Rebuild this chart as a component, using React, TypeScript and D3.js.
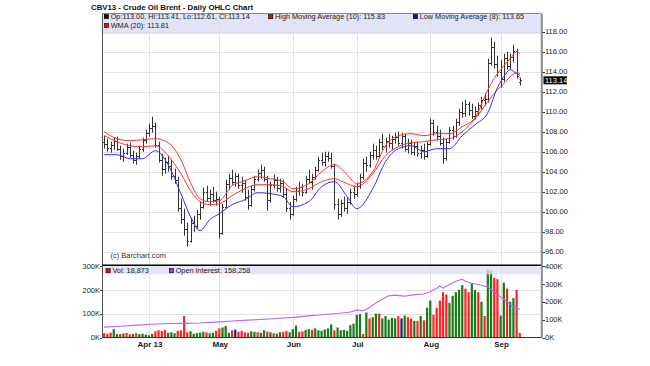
import React, { useRef, useEffect } from 'react';
import * as d3 from 'd3';

// trading calendar for the chart (ICE Brent, Oct 2013 contract)
const firstDay = '2013-03-11';
const lastDay = '2013-09-10';
const holidays = ['2013-03-29'];

// daily OHLC, one row per month
const opens = [
  107.0, 106.8, 106.4, 106.7, 107.1, 106.3, 105.6, 105.9, 106.5, 105.7, 105.2, 105.6, 106.3, 107.2,
  107.9, 108.4, 108.6, 106.7, 105.2, 104.3, 105.0, 104.6, 103.6, 103.2, 100.4, 99.3, 98.3, 97.1, 98.9, 98.6, 99.8, 100.5, 102.0, 101.4, 101.8, 101.2,
  101.3, 97.9, 100.5, 102.8, 103.4, 103.0, 103.6, 102.7, 102.9, 101.5, 100.7, 102.3, 103.3, 103.9, 104.2, 103.3, 101.2, 102.7, 103.2, 102.4, 102.9, 101.8, 100.4,
  99.8, 101.3, 102.1, 102.5, 102.0, 103.3, 103.0, 103.5, 104.2, 105.2, 105.0, 105.6, 105.4, 104.6, 100.8, 99.8, 100.9, 100.4, 101.0, 102.0,
  101.8, 102.6, 103.5, 104.9, 104.7, 105.7, 106.2, 105.6, 107.0, 106.6, 107.1, 106.9, 107.3, 107.5, 106.9, 107.6, 106.3, 106.9, 106.0, 106.6, 105.9, 106.2, 105.6,
  106.8, 108.9, 108.0, 107.6, 106.9, 105.4, 107.0, 108.2, 107.6, 109.0, 110.0, 109.9, 110.8, 110.2, 109.6, 110.1, 110.7, 111.2, 111.3, 114.9, 116.5, 114.8,
  114.0, 113.3, 115.4, 114.6, 115.5, 116.1, 113.0,
];
const highs = [
  107.6, 107.3, 107.0, 107.4, 107.5, 106.6, 106.3, 106.8, 106.9, 106.1, 105.9, 106.6, 107.4, 108.2,
  108.8, 109.5, 108.9, 107.0, 105.8, 105.4, 105.6, 105.2, 104.3, 103.5, 101.3, 100.3, 98.9, 99.4, 99.6, 100.2, 101.0, 102.4, 102.6, 102.2, 102.5, 102.0,
  101.5, 100.8, 103.2, 103.8, 104.2, 103.9, 103.8, 103.5, 103.2, 102.2, 102.6, 103.6, 104.2, 104.7, 104.5, 103.6, 103.0, 103.7, 103.5, 103.3, 103.2, 102.3, 101.0,
  101.6, 102.5, 103.0, 102.8, 103.6, 104.2, 103.8, 104.5, 105.5, 105.9, 106.0, 106.0, 105.9, 104.8, 101.3, 101.2, 101.5, 101.4, 102.3, 102.6,
  102.9, 103.8, 105.3, 105.5, 106.0, 106.8, 106.6, 107.3, 107.8, 107.4, 107.8, 107.6, 107.9, 108.0, 107.9, 107.8, 107.3, 107.2, 106.9, 107.0, 106.6, 106.8, 107.0,
  109.3, 109.2, 108.6, 108.2, 107.4, 107.3, 108.5, 108.6, 109.3, 110.3, 111.0, 111.2, 111.0, 110.8, 110.5, 110.9, 111.5, 111.8, 115.3, 117.4, 117.0, 115.6,
  115.2, 115.8, 116.0, 115.8, 116.7, 116.3, 113.41,
];
const lows = [
  106.3, 106.0, 105.9, 106.2, 106.1, 105.2, 105.0, 105.7, 105.4, 104.8, 104.7, 105.3, 106.0, 106.8,
  107.5, 107.9, 106.4, 104.9, 103.6, 103.8, 104.0, 103.2, 102.8, 100.0, 98.8, 97.6, 96.5, 96.9, 98.0, 98.3, 99.2, 100.3, 101.0, 100.6, 100.9, 100.6,
  97.3, 97.7, 100.4, 102.2, 102.7, 102.5, 102.3, 101.9, 101.1, 100.2, 100.5, 102.0, 103.0, 103.3, 103.0, 100.1, 100.9, 102.3, 102.0, 101.9, 101.4, 100.0, 99.2,
  99.6, 101.0, 101.6, 101.5, 101.8, 102.8, 102.2, 103.2, 104.0, 104.6, 104.5, 105.0, 104.3, 100.2, 99.2, 99.5, 100.0, 99.8, 100.7, 101.3,
  101.5, 102.3, 103.2, 104.0, 104.4, 105.2, 105.2, 105.4, 106.2, 105.9, 106.4, 106.2, 106.8, 106.6, 106.3, 106.0, 105.8, 105.7, 105.6, 105.5, 105.3, 105.2, 105.4,
  106.6, 107.6, 107.1, 106.6, 104.8, 105.1, 106.8, 107.2, 107.4, 108.6, 109.4, 109.5, 109.6, 109.3, 109.2, 109.6, 110.2, 110.6, 110.9, 114.6, 114.3, 113.5,
  112.4, 113.0, 114.2, 114.2, 114.9, 113.3, 112.61,
];
const closes = [
  106.8, 106.4, 106.7, 107.1, 106.3, 105.6, 105.9, 106.5, 105.7, 105.2, 105.6, 106.3, 107.2, 107.9,
  108.4, 108.6, 106.7, 105.2, 104.3, 105.0, 104.6, 103.6, 103.2, 100.4, 99.3, 98.3, 97.1, 98.9, 98.6, 99.8, 100.5, 102.0, 101.4, 101.8, 101.2, 101.3,
  97.9, 100.5, 102.8, 103.4, 103.0, 103.6, 102.7, 102.9, 101.5, 100.7, 102.3, 103.3, 103.9, 104.2, 103.3, 101.2, 102.7, 103.2, 102.4, 102.9, 101.8, 100.4, 99.8,
  101.3, 102.1, 102.5, 102.0, 103.3, 103.0, 103.5, 104.2, 105.2, 105.0, 105.6, 105.4, 104.6, 100.8, 99.8, 100.9, 100.4, 101.0, 102.0, 101.8,
  102.6, 103.5, 104.9, 104.7, 105.7, 106.2, 105.6, 107.0, 106.6, 107.1, 106.9, 107.3, 107.5, 106.9, 107.6, 106.3, 106.9, 106.0, 106.6, 105.9, 106.2, 105.6, 106.8,
  108.9, 108.0, 107.6, 106.9, 105.4, 107.0, 108.2, 107.6, 109.0, 110.0, 109.9, 110.8, 110.2, 109.6, 110.1, 110.7, 111.2, 111.3, 114.9, 116.5, 114.8, 114.0,
  113.3, 115.4, 114.6, 115.5, 116.1, 113.6, 113.14,
];

// indicator readings
const maDates = [
  '2013-03-11', '2013-03-15', '2013-03-21', '2013-03-27', '2013-04-03', '2013-04-09', '2013-04-15', '2013-04-18',
  '2013-04-23', '2013-04-26', '2013-05-01', '2013-05-07', '2013-05-13', '2013-05-17', '2013-05-23', '2013-05-29',
  '2013-06-03', '2013-06-10', '2013-06-14', '2013-06-20', '2013-06-26', '2013-07-01', '2013-07-08', '2013-07-12',
  '2013-07-18', '2013-07-24', '2013-07-30', '2013-08-05', '2013-08-09', '2013-08-15', '2013-08-21', '2013-08-27',
  '2013-08-30', '2013-09-03', '2013-09-05', '2013-09-09', '2013-09-10',
];
const highMA10 = [
  108.0, 107.3, 107.1, 107.2, 107.3, 106.9, 105.2, 102.9, 101.3, 101.0, 101.1, 102.6, 103.1, 103.5, 103.3, 103.0,
  102.3, 102.8, 104.0, 104.7, 103.7, 102.8, 104.0, 106.6, 107.6, 107.8, 107.6, 107.8, 107.8, 108.5, 109.4, 112.2,
  113.8, 114.6, 115.3, 116.0, 115.83,
];
const lowMA8 = [
  105.7, 105.7, 105.3, 105.3, 106.1, 104.7, 101.8, 99.5, 98.1, 99.2, 99.8, 100.7, 101.2, 101.9, 101.8, 101.5,
  100.5, 101.0, 102.5, 103.0, 101.5, 100.3, 102.3, 105.0, 106.3, 106.6, 106.0, 106.3, 106.3, 107.6, 108.7, 109.9,
  112.4, 113.5, 114.2, 113.8, 113.65,
];
const wma20 = [
  107.6, 107.0, 106.6, 106.5, 106.6, 105.6, 103.8, 102.1, 101.0, 100.7, 100.8, 101.6, 102.3, 102.7, 102.7, 102.5,
  102.0, 102.3, 103.0, 103.3, 102.8, 102.5, 103.8, 105.6, 106.5, 106.9, 107.0, 107.2, 107.3, 108.0, 109.3, 111.0,
  112.2, 112.8, 113.5, 113.9, 113.81,
];

// volume in thousands, u = up day, d = down day, n = unchanged
const volumeK = [
  18, 16, 20, 35, 14, 15, 17, 19, 14, 15, 18, 14, 16, 12,
  9, 15, 26, 30, 28, 32, 20, 22, 18, 28, 30, 90, 22, 26, 16, 18, 20, 24, 22, 18, 20, 28,
  38, 42, 48, 20, 30, 33, 24, 28, 22, 20, 26, 24, 22, 20, 30, 25, 22, 18, 16, 22, 24, 28, 22,
  35, 50, 24, 26, 32, 35, 32, 38, 30, 28, 34, 38, 55, 30, 42, 30, 32, 28, 52, 58,
  95, 98, 15, 105, 80, 85, 100, 100, 80, 90, 75, 82, 80, 90, 80, 92, 85, 80, 70, 70, 90, 72, 125,
  155, 95, 125, 155, 190, 180, 145, 175, 190, 200, 220, 205, 190, 225, 200, 190, 150, 90, 285, 280, 250, 245,
  92, 230, 205, 150, 165, 200, 18.873,
];
const volumeDir = (
  'ddduududduduuu' +
  'uudddduuudddduuuuuduud' +
  'duuudndddduuduududuuddu' +
  'uudduuduuuuuuduuuuuu' +
  'uududuuduuuuudnuddududu' +
  'uddddduuuuudduududuudd' +
  'uuduudd'
).split('');

// open interest in thousands
const oiDates = [
  '2013-03-11', '2013-03-18', '2013-03-25', '2013-04-02', '2013-04-09', '2013-04-16', '2013-04-23', '2013-04-30',
  '2013-05-07', '2013-05-14', '2013-05-21', '2013-05-28', '2013-06-04', '2013-06-10', '2013-06-13', '2013-06-18',
  '2013-06-21', '2013-06-27', '2013-07-01', '2013-07-03', '2013-07-05', '2013-07-09', '2013-07-11', '2013-07-15',
  '2013-07-17', '2013-07-19', '2013-07-22', '2013-07-24', '2013-07-26', '2013-07-30', '2013-08-01', '2013-08-05',
  '2013-08-06', '2013-08-07', '2013-08-09', '2013-08-13', '2013-08-15', '2013-08-16', '2013-08-20', '2013-08-23',
  '2013-08-27', '2013-08-29', '2013-09-02', '2013-09-04', '2013-09-06', '2013-09-09', '2013-09-10',
];
const openInterestK = [
  58, 63, 69, 74, 78, 79, 81, 86, 92, 97, 102, 108, 114, 121, 126, 130,
  134, 143, 153, 150, 168, 193, 214, 233, 237, 233, 231, 237, 241, 243, 258, 275,
  288, 276, 296, 315, 326, 315, 303, 292, 283, 255, 227, 199, 172, 164, 158.258,
];

const priceTicks = [96, 98, 100, 102, 104, 106, 108, 110, 112, 114, 116, 118];
const volTicks = [0, 100, 200, 300];
const oiTicks = [0, 100, 200, 300, 400];
const monthStarts = ['2013-04-01', '2013-05-01', '2013-06-03', '2013-07-01', '2013-08-01', '2013-09-02'];
const monthLabels = ['Apr 13', 'May', 'Jun', 'Jul', 'Aug', 'Sep'];

const font = 'Liberation Sans, Arial, sans-serif';
const volColors: Record<string, string> = { u: '#177a17', d: '#ff2222', n: '#1c1c78' };

const OhlcChart = () => {
  const chartRef = useRef<SVGSVGElement | null>(null);

  useEffect(() => {
    if (!chartRef.current) return;
    const svg = d3.select(chartRef.current);
    svg.selectAll('*').remove();

    const width = 650;
    const height = 366;
    const left = 102;
    const right = 541;
    const top = 13.5;
    const sep = 265.3; // line between price and volume panes
    const volBottom = 337.5;

    const fmt = d3.utcFormat('%Y-%m-%d');
    const days = d3.utcDays(new Date(firstDay), d3.utcDay.offset(new Date(lastDay), 1))
      .filter(d => d.getUTCDay() !== 0 && d.getUTCDay() !== 6)
      .map(d => fmt(d))
      .filter(d => !holidays.includes(d));

    const x = d3.scalePoint<string>().domain(days).range([104.2, 519.8]);
    const y = d3.scaleLinear().domain([96, 118]).range([251.7, 31.7]);
    const yVol = d3.scaleLinear().domain([0, 300]).range([volBottom, 266]);
    const yOi = d3.scaleLinear().domain([0, 400]).range([volBottom, 266]);
    const px = (d: string) => Math.round(x(d) as number) + 0.5;
    const py = (v: number) => Math.round(y(v)) + 0.5;

    svg.append('rect').attr('width', width).attr('height', height).attr('fill', '#fff');

    // grid
    const grid = svg.append('g').attr('stroke', '#e2e2e2').attr('stroke-width', 1);
    priceTicks.forEach(t => {
      grid.append('line').attr('x1', left).attr('x2', right).attr('y1', py(t)).attr('y2', py(t));
    });
    volTicks.slice(1, -1).forEach(t => {
      const yy = Math.round(yVol(t)) + 0.5;
      grid.append('line').attr('x1', left).attr('x2', right).attr('y1', yy).attr('y2', yy);
    });
    monthStarts.forEach(m => {
      grid.append('line').attr('x1', px(m)).attr('x2', px(m)).attr('y1', top).attr('y2', volBottom);
    });

    // OHLC bars
    const bars = svg.append('g').attr('stroke', '#333').attr('stroke-width', 1);
    days.forEach((d, i) => {
      const cx = px(d);
      bars.append('line').attr('x1', cx).attr('x2', cx).attr('y1', y(highs[i])).attr('y2', y(lows[i]));
      bars.append('line').attr('x1', cx - 1.5).attr('x2', cx).attr('y1', py(opens[i])).attr('y2', py(opens[i]));
      bars.append('line').attr('x1', cx).attr('x2', cx + 1.5).attr('y1', py(closes[i])).attr('y2', py(closes[i]));
    });

    // moving averages
    const maLine = (vals: number[]) => d3.line<string>()
      .x(d => x(d) as number)
      .y((d, i) => y(vals[i]))
      .curve(d3.curveMonotoneX)(maDates);

    svg.append('path').attr('d', maLine(wma20)).attr('fill', 'none').attr('stroke', '#ff3030').attr('stroke-width', 1);
    svg.append('path').attr('d', maLine(highMA10)).attr('fill', 'none').attr('stroke', '#ff3030').attr('stroke-width', 1);
    svg.append('path').attr('d', maLine(lowMA8)).attr('fill', 'none').attr('stroke', '#3030ff').attr('stroke-width', 1);

    // volume bars
    const vol = svg.append('g');
    days.forEach((d, i) => {
      const top0 = yVol(volumeK[i]);
      vol.append('rect')
        .attr('x', (x(d) as number) - 1.1)
        .attr('y', top0)
        .attr('width', 2.2)
        .attr('height', volBottom - top0)
        .attr('fill', volColors[volumeDir[i]]);
    });

    // open interest
    const oiLine = d3.line<string>()
      .x(d => x(d) as number)
      .y((d, i) => yOi(openInterestK[i]));
    svg.append('path').attr('d', oiLine(oiDates)).attr('fill', 'none').attr('stroke', '#b266ff').attr('stroke-width', 1.1);

    // legend boxes
    svg.append('rect').attr('x', left).attr('y', top).attr('width', right - left).attr('height', 20.5)
      .attr('fill', '#dcdcf6').attr('opacity', 0.8);
    svg.append('rect').attr('x', left).attr('y', 266.2).attr('width', right - left - 1).attr('height', 8.2)
      .attr('fill', '#dcdcf6').attr('opacity', 0.75);

    const legendItem = (lx: number, ly: number, color: string, label: string) => {
      svg.append('rect').attr('x', lx).attr('y', ly - 4.4).attr('width', 4.2).attr('height', 4.2)
        .attr('fill', color).attr('stroke', '#000').attr('stroke-width', 0.6);
      svg.append('text').attr('x', lx + 6.4).attr('y', ly).attr('font-family', font).attr('font-size', 7.3)
        .attr('fill', '#1a1a1a').text(label);
    };
    const last = days.length - 1;
    legendItem(104.3, 18.9, '#000', `Op:${opens[last].toFixed(2)}, Hi:${highs[last].toFixed(2)}, Lo:${lows[last].toFixed(2)}, Cl:${closes[last].toFixed(2)}`);
    legendItem(268.6, 18.9, '#ff0000', `High Moving Average (10): ${highMA10[highMA10.length - 1].toFixed(2)}`);
    legendItem(413.3, 18.9, '#0000ff', `Low Moving Average (8): ${lowMA8[lowMA8.length - 1].toFixed(2)}`);
    legendItem(104.3, 27.8, '#ff0000', `WMA (20): ${wma20[wma20.length - 1].toFixed(2)}`);
    legendItem(106, 273, '#ff0000', `Vol: ${d3.format(',')(Math.round(volumeK[last] * 1000))}`);
    legendItem(169.3, 273, '#9933ff', `Open Interest: ${d3.format(',')(Math.round(openInterestK[openInterestK.length - 1] * 1000))}`);

    // frame
    svg.append('line').attr('x1', left).attr('x2', right).attr('y1', top).attr('y2', top).attr('stroke', '#888');
    svg.append('line').attr('x1', left + 0.5).attr('x2', left + 0.5).attr('y1', top).attr('y2', volBottom).attr('stroke', '#555');
    svg.append('line').attr('x1', left).attr('x2', right).attr('y1', sep).attr('y2', sep).attr('stroke', '#000').attr('stroke-width', 1.6);
    svg.append('line').attr('x1', left).attr('x2', right).attr('y1', volBottom).attr('y2', volBottom).attr('stroke', '#333');
    svg.append('line').attr('x1', right + 0.8).attr('x2', right + 0.8).attr('y1', top).attr('y2', volBottom + 0.5)
      .attr('stroke', '#8a8a8a').attr('stroke-width', 2);

    // axes text
    const axisText = (tx: number, ty: number, label: string, anchor = 'start', bold = false) => {
      svg.append('text').attr('x', tx).attr('y', ty).attr('text-anchor', anchor)
        .attr('font-family', font).attr('font-size', bold ? 8 : 7.5).attr('font-weight', bold ? 'bold' : 'normal')
        .attr('fill', '#1a1a1a').text(label);
    };
    priceTicks.forEach(t => {
      svg.append('line').attr('x1', right + 1.5).attr('x2', right + 4).attr('y1', py(t)).attr('y2', py(t)).attr('stroke', '#333');
      axisText(545, y(t) + 2.7, t.toFixed(2));
    });
    oiTicks.forEach(t => {
      const yy = Math.round(yOi(t)) + 0.5;
      svg.append('line').attr('x1', right + 1.5).attr('x2', right + 4).attr('y1', yy).attr('y2', yy).attr('stroke', '#333');
      axisText(545, yOi(t) + 2.7, `${t}K`);
    });
    volTicks.forEach(t => {
      const yy = Math.round(yVol(t)) + 0.5;
      svg.append('line').attr('x1', left - 2).attr('x2', left).attr('y1', yy).attr('y2', yy).attr('stroke', '#333');
      axisText(100, yVol(t) + 2.7, `${t}K`, 'end');
    });

    // current price marker
    const lastY = y(closes[last]);
    svg.append('rect').attr('x', 543.5).attr('y', lastY - 4).attr('width', 23.5).attr('height', 8).attr('fill', '#000');
    svg.append('text').attr('x', 545).attr('y', lastY + 2.7).attr('font-family', font).attr('font-size', 7.5)
      .attr('fill', '#fff').text(closes[last].toFixed(2));

    // month labels
    monthStarts.forEach((m, i) => axisText((x(m) as number) + 1, 346.5, monthLabels[i], 'middle', true));

    // title and credit
    svg.append('text').attr('x', 91).attr('y', 9.6).attr('font-family', font).attr('font-size', 7.8)
      .attr('font-weight', 'bold').attr('fill', '#111').text('CBV13 - Crude Oil Brent - Daily OHLC Chart');
    svg.append('text').attr('x', 110.5).attr('y', 258).attr('font-family', font).attr('font-size', 7.5)
      .attr('fill', '#333').text('(c) Barchart.com');
  }, []);

  return (
    <svg
      ref={chartRef}
      width="650"
      height="366"
      style={{ position: 'absolute', left: 0, top: 0 }}
    />
  );
};

export default function App() {
  return <OhlcChart />;
}
